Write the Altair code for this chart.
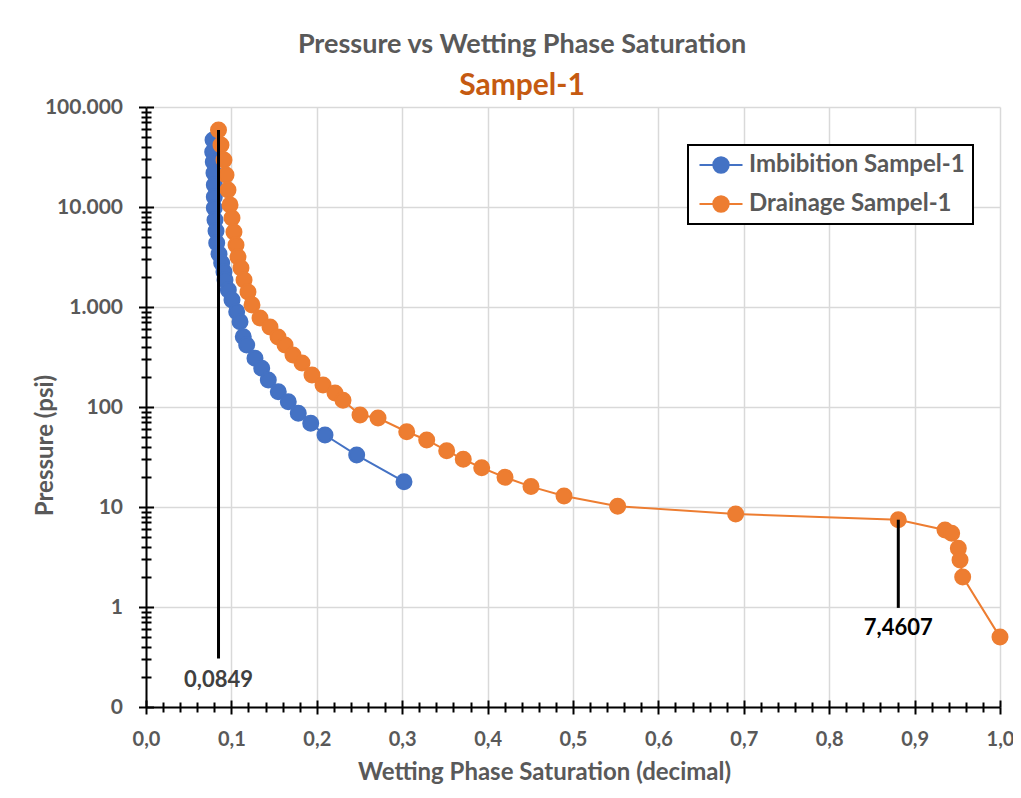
import altair as alt
import pandas as pd

series_names = ["Imbibition Sampel-1", "Drainage Sampel-1"]
series_colors = ["#4472C4", "#ED7D31"]

imb_sw = [0.0785, 0.0781, 0.0788, 0.0796, 0.0800, 0.0800, 0.0800, 0.0808, 0.0820, 0.0828,
          0.0855, 0.0886, 0.0913, 0.0925, 0.0964, 0.1007, 0.1062, 0.1101, 0.1139, 0.1179,
          0.1276, 0.1355, 0.1432, 0.1549, 0.1666, 0.1783, 0.1929, 0.2096, 0.2467, 0.3021]
imb_p = [46800, 35500, 28200, 21900, 16600, 12600, 9770, 7410, 5750, 4370,
         3390, 2750, 2240, 1860, 1480, 1175, 898, 713, 505, 417,
         307, 244, 186, 142, 113, 86.5, 68.7, 52.5, 33.1, 17.9]

dr_sw = [0.0849, 0.0878, 0.0913, 0.0937, 0.0960, 0.0984, 0.1007, 0.1030, 0.1054, 0.1077,
         0.1112, 0.1148, 0.1194, 0.1241, 0.1335, 0.1452, 0.1546, 0.1628, 0.1721, 0.1827,
         0.1944, 0.2073, 0.2213, 0.2307, 0.2506, 0.2717, 0.3053, 0.3287, 0.3521, 0.3715,
         0.3931, 0.4204, 0.4508, 0.4895, 0.5523, 0.6905, 0.8809, 0.9356, 0.9434, 0.9512,
         0.9532, 0.9563, 1.0]
dr_p = [59000, 41700, 29500, 20900, 14800, 10500, 7760, 5620, 4170, 3160,
        2460, 1860, 1410, 1050, 776, 631, 501, 417, 331, 275,
        209, 166, 138, 117, 83.0, 77.6, 56.6, 46.8, 36.6, 30.0,
        24.7, 19.8, 16.0, 12.9, 10.2, 8.5, 7.4607, 5.9, 5.46, 3.86,
        2.95, 2.0, 0.5]

ann_x = [0.0849, 0.8809]
ann_top = [59000, 7.4607]
ann_bottom = [0.305, 0.98]
ann_label_y = [0.186, 0.616]
ann_text = ["0,0849", "7,4607"]

x_major = [0.0, 0.1, 0.2, 0.3, 0.4, 0.5, 0.6, 0.7, 0.8, 0.9, 1.0]
x_minor = [round(i * 0.02, 2) for i in range(51) if i % 5 != 0]
y_major = [0.1, 1, 10, 100, 1000, 10000, 100000]
y_minor = [m * 10.0 ** e for e in range(-1, 5) for m in range(2, 10)]

rows = []
for name, xs, ps in ((series_names[0], imb_sw, imb_p), (series_names[1], dr_sw, dr_p)):
    for i, (xv, pv) in enumerate(zip(xs, ps)):
        rows.append({"series": name, "sw": xv, "p": pv, "idx": i})
df = pd.DataFrame(rows)
ann_df = pd.DataFrame({"x": ann_x, "top": ann_top, "bottom": ann_bottom,
                       "ly": ann_label_y, "text": ann_text})

FONT = "Lato"
GRAY = "#595959"
X_MAJ = "abs(datum.value*10 - round(datum.value*10)) < 0.001"
Y_MAJ = "abs(log(datum.value)/LN10 - round(log(datum.value)/LN10)) < 0.001"

xscale = alt.Scale(domain=[0, 1], nice=False, zero=False)
yscale = alt.Scale(type="log", domain=[0.1, 100000], nice=False)

x_all = sorted(x_major + x_minor)
y_all = sorted(y_major + y_minor)

x_main_axis = alt.Axis(
    orient="bottom", values=x_all, title="Wetting Phase Saturation (decimal)",
    titleFont=FONT, titleFontSize=24, titleFontWeight="bold", titleColor=GRAY,
    titleX=398, titleY=65, titleBaseline="middle", titleAlign="center",
    domainColor="black", domainWidth=2, tickColor="black", tickWidth=2,
    tickSize={"condition": {"test": X_MAJ, "value": 7}, "value": 5},
    gridColor="#d9d9d9", gridWidth=1.5,
    gridOpacity={"condition": {"test": X_MAJ, "value": 1}, "value": 0},
    labelExpr=f"{X_MAJ} ? replace(format(datum.value, '.1f'), '.', ',') : ''",
    labelFont=FONT, labelFontSize=20, labelFontWeight="bold", labelColor=GRAY,
    labelPadding=15, labelOverlap=False, labelFlush=False,
)
y_main_axis = alt.Axis(
    orient="left", values=y_all, title="Pressure (psi)",
    titleFont=FONT, titleFontSize=24, titleFontWeight="bold", titleColor=GRAY,
    titleX=-101, titleY=338, titleBaseline="middle", titleAlign="center", titleAngle=270,
    domainColor="black", domainWidth=2, tickColor="black", tickWidth=2,
    tickSize={"condition": {"test": Y_MAJ, "value": 7.5}, "value": 5},
    gridColor="#d9d9d9", gridWidth=1.5,
    gridOpacity={"condition": {"test": Y_MAJ, "value": 1}, "value": 0},
    labelExpr=f"{Y_MAJ} ? (datum.value < 0.5 ? '0' : replace(format(datum.value, ',.0f'), ',', '.')) : ''",
    labelFont=FONT, labelFontSize=21, labelFontWeight="bold", labelColor=GRAY,
    labelPadding=16, labelOverlap=False, labelFlush=False,
)

def inner_axis(orient, values, size):
    return alt.Axis(orient=orient, values=values, offset=-size, tickSize=size,
                    tickColor="black", tickWidth=2, labels=False, grid=False,
                    domain=False, title=None)

sym_path = "M-2.15,0H2.15M0.77,0A0.77,0.77,0,1,1,-0.77,0A0.77,0.77,0,1,1,0.77,0Z"

def series_legend():
    return alt.Legend(
        title=None, orient="none", legendX=542, legendY=38,
        symbolType=sym_path, symbolSize=400, symbolStrokeWidth=2,
        symbolOffset=13, labelOffset=16, labelLimit=400,
        labelFont=FONT, labelFontSize=24, labelFontWeight="bold",
        labelColor=GRAY, padding=8, rowPadding=15,
        strokeColor="black", fillColor="white")

series_scale = alt.Scale(domain=series_names, range=series_colors)

base = alt.Chart(df)
lines = base.mark_line(strokeWidth=2).encode(
    x=alt.X("sw:Q", scale=xscale, axis=x_main_axis),
    y=alt.Y("p:Q", scale=yscale, axis=y_main_axis),
    color=alt.Color("series:N", scale=series_scale, sort=series_names, legend=series_legend()),
    detail="series:N",
    order="idx:Q",
)
points = base.mark_point(filled=True, opacity=1, strokeWidth=2, size=225).encode(
    x=alt.X("sw:Q", scale=xscale, axis=None),
    y=alt.Y("p:Q", scale=yscale, axis=None),
    fill=alt.Fill("series:N", scale=series_scale, sort=series_names, legend=series_legend()),
    stroke=alt.Stroke("series:N", scale=series_scale, sort=series_names, legend=series_legend()),
)

rules = alt.Chart(ann_df).mark_rule(color="black", strokeWidth=3).encode(
    x=alt.X("x:Q", scale=xscale, axis=inner_axis("bottom", x_major, 7)),
    y=alt.Y("top:Q", scale=yscale, axis=inner_axis("left", y_major, 7.5)),
    y2="bottom:Q",
)
labels = alt.Chart(ann_df).mark_text(font=FONT, fontSize=22, fontWeight="bold").encode(
    x=alt.X("x:Q", scale=xscale, axis=inner_axis("bottom", x_minor, 5)),
    y=alt.Y("ly:Q", scale=yscale, axis=inner_axis("left", y_minor, 5)),
    text="text:N",
    color=alt.condition(alt.datum.text == "0,0849", alt.value("#404040"), alt.value("#000000")),
)

chart = alt.layer(lines, points, rules, labels).resolve_axis(
    x="independent", y="independent"
).properties(
    width=854, height=600,
    title=alt.TitleParams(text="Pressure vs Wetting Phase Saturation", subtitle="Sampel-1"),
    autosize=alt.AutoSizeParams(type="none"),
    padding={"left": 138, "top": 99, "right": 13, "bottom": 83},
    background="white",
).configure_view(strokeWidth=0).configure_title(
    font=FONT, fontSize=27, fontWeight="bold", color=GRAY,
    subtitleFont=FONT, subtitleFontSize=30, subtitleFontWeight="bold", subtitleColor="#C55A11",
    anchor="middle", dx=-51, offset=-6, subtitlePadding=12,
).configure_legend(strokeWidth=2)

chart.save("out.html", embed_options={"renderer": "svg", "actions": False})
